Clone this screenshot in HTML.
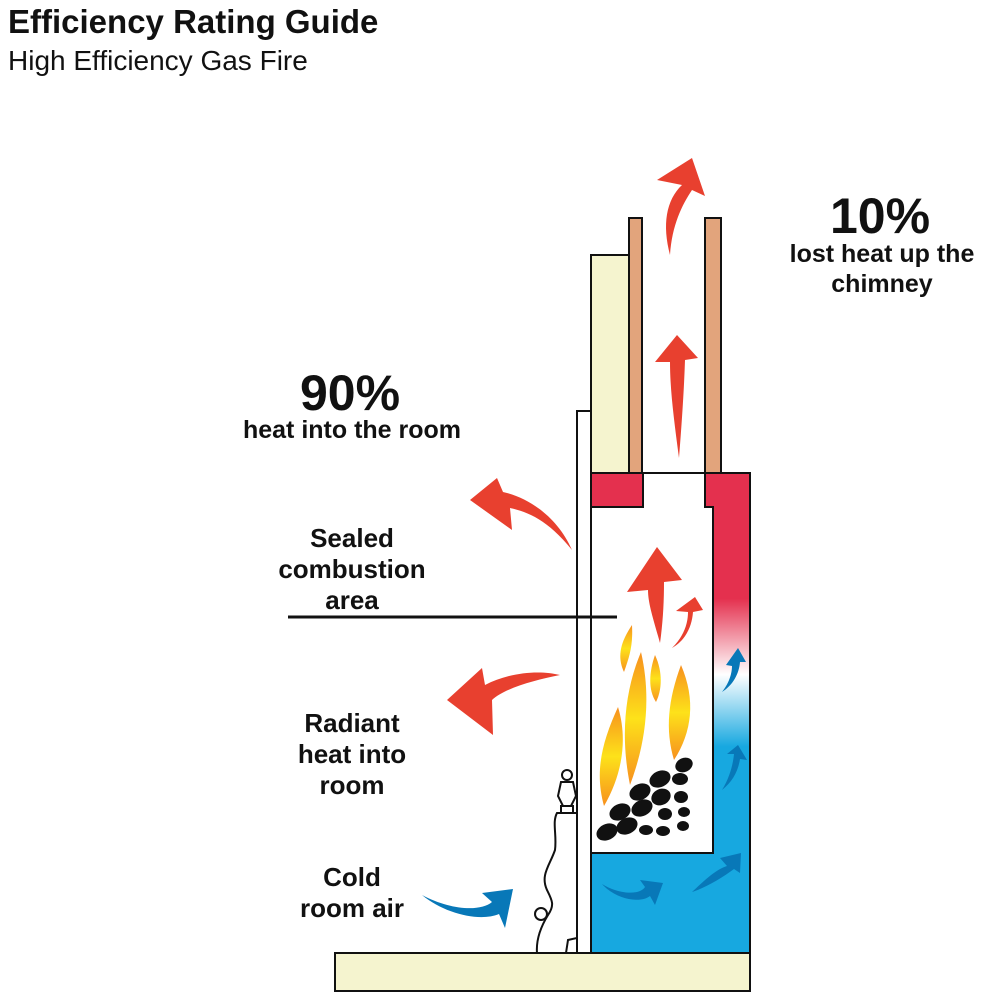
<!DOCTYPE html>
<html><head><meta charset="utf-8"><style>
html,body{margin:0;padding:0;background:#fff;}
svg{display:block;}
text{font-family:"Liberation Sans",Arial,sans-serif;font-weight:bold;fill:#111;}
</style></head><body>
<svg width="1000" height="1000" viewBox="0 0 1000 1000" xmlns="http://www.w3.org/2000/svg">
<defs>
<linearGradient id="g" x1="0" y1="473" x2="0" y2="853" gradientUnits="userSpaceOnUse">
<stop offset="0" stop-color="#e4304e"/>
<stop offset="0.33" stop-color="#e4304e"/>
<stop offset="0.53" stop-color="#ffffff"/>
<stop offset="0.72" stop-color="#17a8e0"/>
<stop offset="1" stop-color="#17a8e0"/>
</linearGradient>
<linearGradient id="fl" x1="0" y1="0" x2="0" y2="1">
<stop offset="0" stop-color="#f7901e"/><stop offset="0.5" stop-color="#fde21a"/><stop offset="1" stop-color="#f7901e"/>
</linearGradient>
</defs>
<text x="8" y="33" font-size="33">Efficiency Rating Guide</text>
<text x="8" y="70" font-size="28" style="font-weight:normal">High Efficiency Gas Fire</text>

<text x="350" y="410" font-size="50" text-anchor="middle">90%</text>
<text x="352" y="438" font-size="25" text-anchor="middle">heat into the room</text>
<text x="880" y="233" font-size="50" text-anchor="middle">10%</text>
<text x="882" y="262" font-size="25" text-anchor="middle">lost heat up the</text>
<text x="882" y="292" font-size="25" text-anchor="middle">chimney</text>
<text x="352" y="547" font-size="26" text-anchor="middle">Sealed</text>
<text x="352" y="578" font-size="26" text-anchor="middle">combustion</text>
<text x="352" y="609" font-size="26" text-anchor="middle">area</text>
<text x="352" y="732" font-size="26" text-anchor="middle">Radiant</text>
<text x="352" y="763" font-size="26" text-anchor="middle">heat into</text>
<text x="352" y="794" font-size="26" text-anchor="middle">room</text>
<text x="352" y="886" font-size="26" text-anchor="middle">Cold</text>
<text x="352" y="917" font-size="26" text-anchor="middle">room air</text>

<rect x="335" y="953" width="415" height="38" fill="#f5f4cf" stroke="#111" stroke-width="2"/>
<rect x="591" y="255" width="38" height="218" fill="#f5f4cf" stroke="#111" stroke-width="2"/>
<rect x="629" y="218" width="13" height="255" fill="#e2a47c" stroke="#111" stroke-width="2"/>
<rect x="705" y="218" width="16" height="255" fill="#e2a47c" stroke="#111" stroke-width="2"/>
<rect x="577" y="411" width="14" height="542" fill="#fff" stroke="#111" stroke-width="2"/>
<path d="M591 473 H643 V507 H591 Z" fill="#e4304e" stroke="#111" stroke-width="2"/>
<path d="M705 473 H750 V953 H591 V853 H713 V507 H705 Z" fill="url(#g)" stroke="#111" stroke-width="2"/>
<rect x="591" y="853" width="159" height="100" fill="#17a8e0"/>
<path d="M591 853 H713 V507" fill="none" stroke="#111" stroke-width="2"/>
<rect x="591" y="473" width="159" height="480" fill="none" stroke="#111" stroke-width="2"/>
<line x1="591" y1="507" x2="591" y2="853" stroke="#111" stroke-width="2"/>
<line x1="288" y1="617" x2="617" y2="617" stroke="#111" stroke-width="3"/>

<g fill="#e8402f">
<path d="M670 255 C662 225 666 200 682 185 L657 180 L692 158 L705 196 L692 190 C682 205 672 225 670 255 Z"/>
<path d="M679 458 C674 420 670 390 670 362 L655 362 L677 335 L698 358 L685 360 C684 390 682 420 679 458 Z"/>
<path d="M572 550 C548 520 528 512 510 508 L512 530 L470 500 L497 478 L503 492 C530 498 558 518 572 550 Z"/>
<path d="M560 675 C535 680 505 688 492 700 L493 735 L447 700 L482 668 L485 685 C510 672 540 670 560 675 Z"/>
<path d="M660 643 C653 618 648 603 648 590 L627 592 L657 547 L682 580 L664 582 C664 602 663 622 660 643 Z"/>
<path d="M672 648 C685 635 688 622 688 612 L676 611 L695 597 L703 610 L693 612 C692 626 686 640 672 648 Z"/>
</g>
<g fill="#0878b8">
<path d="M422 895 C450 910 480 912 492 902 L482 893 L513 889 L505 928 L499 914 C480 922 445 914 422 895 Z"/>
<path d="M602 884 C620 895 640 895 645 887 L640 880 L663 883 L655 905 L650 896 C640 904 615 899 602 884 Z"/>
<path d="M692 892 C705 880 715 870 727 866 L720 858 L741 853 L740 873 L734 869 C722 878 705 888 692 892 Z"/>
<path d="M722 790 C730 777 733 764 734 754 L727 754 L738 745 L747 760 L740 759 C738 772 732 782 722 790 Z"/>
<path d="M722 692 C730 682 732 672 732 666 L726 665 L738 648 L746 662 L740 662 C739 674 733 685 722 692 Z"/>
</g>
<g fill="url(#fl)">
<path d="M624 672 C616 655 622 640 632 625 C633 645 630 655 624 672 Z"/>
<path d="M604 806 C594 770 603 740 618 707 C628 740 622 775 604 806 Z"/>
<path d="M630 785 C620 735 625 690 641 652 C652 700 645 745 630 785 Z"/>
<path d="M656 702 C648 690 649 672 655 655 C663 672 662 690 656 702 Z"/>
<path d="M674 760 C665 730 668 700 681 665 C696 700 692 732 674 760 Z"/>
</g>
<g fill="#111">
<ellipse cx="607" cy="832" rx="11" ry="8" transform="rotate(-25 607 832)"/>
<ellipse cx="627" cy="826" rx="11" ry="8" transform="rotate(-25 627 826)"/>
<ellipse cx="646" cy="830" rx="7" ry="5"/>
<ellipse cx="663" cy="831" rx="7" ry="5"/>
<ellipse cx="683" cy="826" rx="6" ry="5"/>
<ellipse cx="620" cy="812" rx="11" ry="8" transform="rotate(-25 620 812)"/>
<ellipse cx="642" cy="808" rx="11" ry="8" transform="rotate(-25 642 808)"/>
<ellipse cx="665" cy="814" rx="7" ry="6"/>
<ellipse cx="684" cy="812" rx="6" ry="5"/>
<ellipse cx="640" cy="792" rx="11" ry="8" transform="rotate(-25 640 792)"/>
<ellipse cx="661" cy="797" rx="10" ry="8" transform="rotate(-25 661 797)"/>
<ellipse cx="681" cy="797" rx="7" ry="6"/>
<ellipse cx="660" cy="779" rx="11" ry="8" transform="rotate(-25 660 779)"/>
<ellipse cx="680" cy="779" rx="8" ry="6"/>
<ellipse cx="684" cy="765" rx="9" ry="7" transform="rotate(-25 684 765)"/>
</g>
<g fill="#fff" stroke="#111" stroke-width="2">
<path d="M577 813 H557 C552 822 557 835 555 850 C550 865 540 875 547 890 C552 900 555 905 548 915 C540 928 536 940 537 953 H566 L568 940 L577 938 Z"/>
<circle cx="567" cy="775" r="5"/>
<path d="M561 782 H573 L576 796 L571 806 H563 L558 796 Z"/>
<rect x="561" y="806" width="12" height="7"/>
<circle cx="541" cy="914" r="6"/>
</g>
</svg>
</body></html>
